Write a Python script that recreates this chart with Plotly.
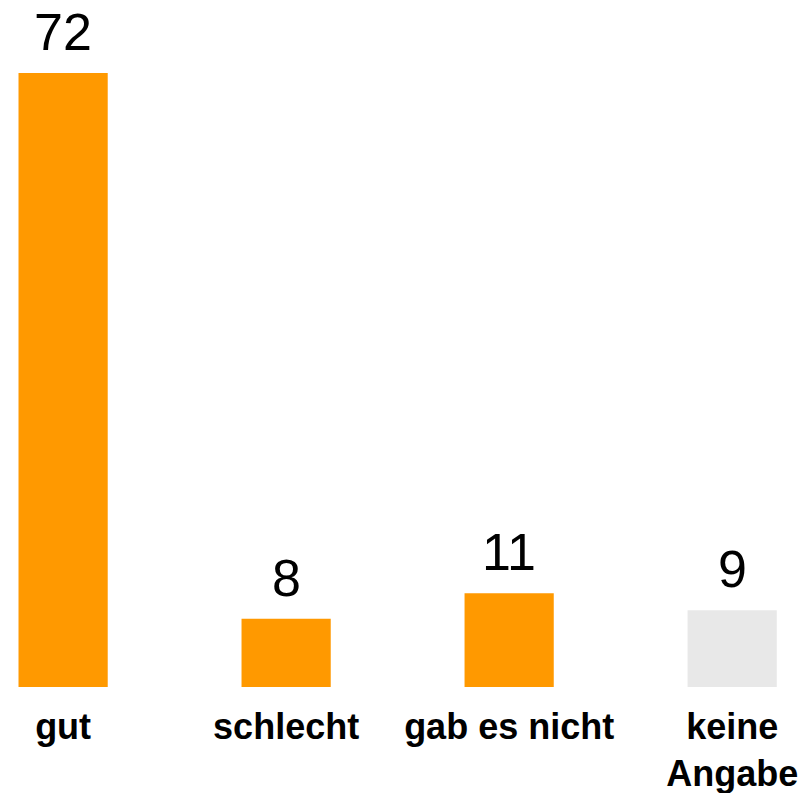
import plotly.graph_objects as go

categories = ["gut", "schlecht", "gab es nicht", "keine<br>Angabe"]
values = [72, 8, 11, 9]
colors = ["#FF9900", "#FF9900", "#FF9900", "#E8E8E8"]

FONT = "Liberation Sans, Arial, sans-serif"

fig = go.Figure()
fig.add_trace(go.Bar(
    x=categories, y=values,
    marker=dict(color=colors, line=dict(width=0)),
    hoverinfo="x+y",
))

for c, v in zip(categories, values):
    fig.add_annotation(
        x=c, y=v, xref="x", yref="y",
        text=str(v), showarrow=False,
        yanchor="bottom", yshift=10,
        font=dict(family=FONT, size=52, color="black"),
    )

fig.update_layout(
    width=810, height=793,
    margin=dict(l=0, r=0, t=0, b=106),
    paper_bgcolor="white", plot_bgcolor="white",
    bargap=0.6,
    showlegend=False,
    font=dict(family=FONT),
)
fig.update_xaxes(
    range=[-0.283, 3.349],
    showgrid=False, zeroline=False, showline=False, ticks="",
    tickfont=dict(family=FONT, size=36, color="black", weight="bold"),
    ticklabelstandoff=15,
    automargin=False,
)
fig.update_yaxes(range=[0, 80.56], visible=False)

fig.write_html(
    "out.html",
    config={"displayModeBar": False},
    post_script="document.body.style.margin='0';document.body.style.overflow='hidden';",
)
